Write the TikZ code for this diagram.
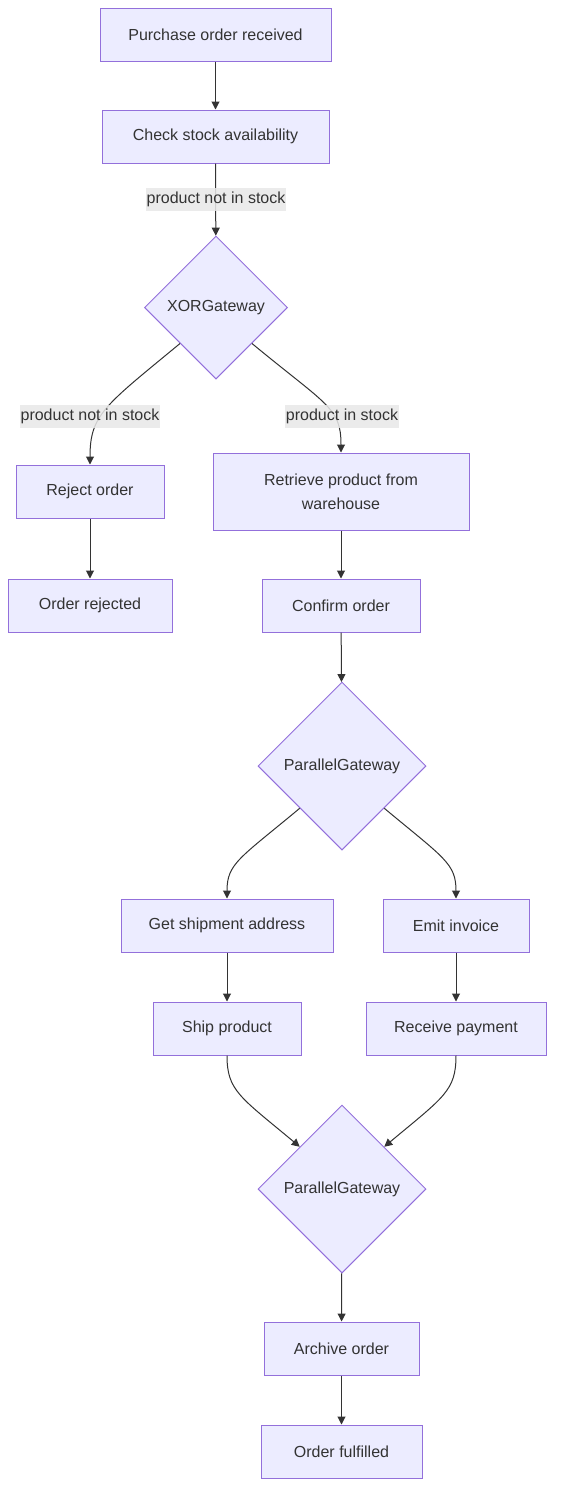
\documentclass[tikz,border=0pt]{standalone}
\usepackage{fontspec}
\setmainfont{Liberation Sans}
\usetikzlibrary{calc}
\usetikzlibrary{shapes.geometric,arrows.meta}

\definecolor{nodefill}{HTML}{ECECFF}
\definecolor{nodeline}{HTML}{9370DB}
\definecolor{edgeline}{HTML}{333333}
\definecolor{labelbg}{HTML}{E8E8E8}

\tikzset{
  box/.style={draw=nodeline, fill=nodefill, text=edgeline, line width=0.75pt,
    minimum height=39.75pt, inner sep=0pt, align=center},
  bw/.style={minimum width=#1*0.75pt},
  gate/.style={diamond, aspect=1, draw=nodeline, fill=nodefill, text=edgeline,
    line width=0.75pt, inner sep=0pt, minimum width=#1*0.75pt, minimum height=#1*0.75pt},
  elabel/.style={fill=labelbg, fill opacity=0.85, text opacity=1, text=edgeline,
    inner xsep=0.5pt, inner ysep=0pt, minimum height=17.25pt},
  flow/.style={draw=edgeline, line width=0.75pt, -{Triangle[length=6pt,width=6pt]}}
}

\begin{document}
\begin{tikzpicture}[x=0.75pt, y=-0.75pt, font=\fontsize{12}{18}\selectfont]
      \useasboundingbox (0,0) rectangle (562,1507);

      % Order intake
      \node[box, bw=231] (recv) at (215.5,34.5) {Purchase order received};
      \node[box, bw=227] (check) at (215.5,136.5) {Check stock availability};
      \node[gate=143] (xor) at (216,307.5) {XORGateway};

      % Two branches of the stock check
      \node[box, bw=148] (reject) at (90,491.5) {Reject order};
      \node[box, bw=256, minimum height=57.75pt] (retrieve) at (341,491.5) {Retrieve product from\\warehouse};
      \node[box, bw=164] (rejected) at (90,605.5) {Order rejected};
      \node[box, bw=158] (confirm) at (341,605.5) {Confirm order};

      % Parallel part
      \node[gate=168] (par1) at (342,766) {ParallelGateway};
      \node[box, bw=212] (address) at (227,925.5) {Get shipment address};
      \node[box, bw=146] (invoice) at (456,925.5) {Emit invoice};
      \node[box, bw=148] (ship) at (227,1028.5) {Ship product};
      \node[box, bw=180] (payment) at (456,1028.5) {Receive payment};
      \node[gate=168] (par2) at (342,1189) {ParallelGateway};

      % Closing
      \node[box, bw=155] (archive) at (341.5,1348.5) {Archive order};
      \node[box, bw=161] (fulfilled) at (341.5,1451.5) {Order fulfilled};

      \draw[flow] (recv) -- (check);
      \draw[flow] (check) -- (xor);
      \draw[flow] (xor.225) .. controls ($(xor.225)+(-75,62)$) and ($(reject.north)+(0,-50)$) .. (reject.north);
      \draw[flow] (xor.315) .. controls ($(xor.315)+(75,62)$) and ($(retrieve.north)+(0,-45)$) .. (retrieve.north);
      \draw[flow] (reject) -- (rejected);
      \draw[flow] (retrieve) -- (confirm);
      \draw[flow] (confirm) -- (par1);

      % Split and join
      \draw[flow] (par1.225) .. controls ($(par1.225)+(-60,50)$) and ($(address.north)+(0,-35)$) .. (address.north);
      \draw[flow] (par1.315) .. controls ($(par1.315)+(60,50)$) and ($(invoice.north)+(0,-35)$) .. (invoice.north);
      \draw[flow] (address) -- (ship);
      \draw[flow] (invoice) -- (payment);
      \draw[flow] (ship.south) .. controls ($(ship.south)+(0,35)$) and ($(par2.135)+(-60,-50)$) .. (par2.135);
      \draw[flow] (payment.south) .. controls ($(payment.south)+(0,35)$) and ($(par2.45)+(60,-50)$) .. (par2.45);
      \draw[flow] (par2) -- (archive);
      \draw[flow] (archive) -- (fulfilled);

      % Edge labels on top of the lines
      \node[elabel] (lblcheck) at (216,199.5) {product not in stock};
      \node[elabel] (lblno) at (90,416.5) {product not in stock};
      \node[elabel] (lblyes) at (342,416.5) {product in stock};
\end{tikzpicture}
\end{document}
